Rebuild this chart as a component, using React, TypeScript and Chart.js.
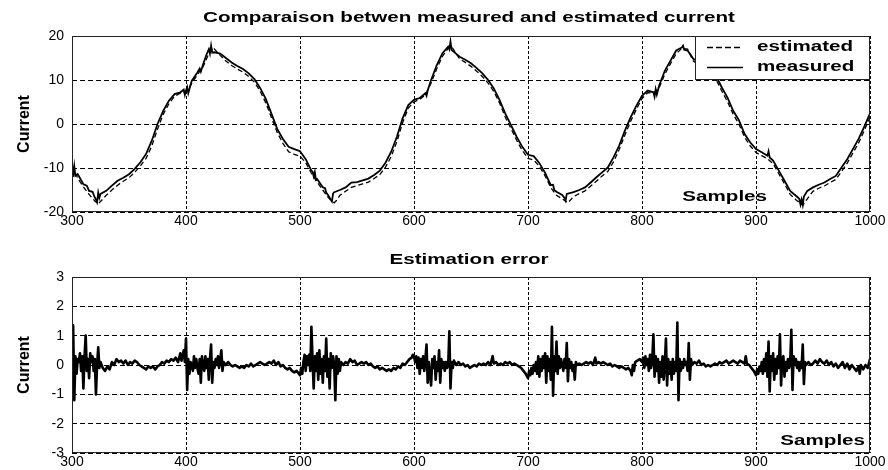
import React, { useEffect, useRef } from "react";
import { Chart, registerables } from "chart.js";

Chart.register(...registerables);

// ---------- data ----------
const topTitle = "Comparaison betwen measured and estimated current";
const bottomTitle = "Estimation error";
const xAxisLabel = "Samples";
const yAxisLabel = "Current";
const seriesNames = ["estimated", "measured"];

const sampleTicks = [300, 400, 500, 600, 700, 800, 900, 1000];
const currentTicks = [-20, -10, 0, 10, 20];
const errorTicks = [-3, -2, -1, 0, 1, 2, 3];

// [sample, current]
const measuredPoints: [number, number][] = [
  [300, -8.7], [301, -12.0], [302, -9.6], [303, -11.8], [305, -11.4], [310, -13.7], [313, -14.0], [315, -15.2],
  [318, -15.4], [320, -16.7], [321, -17.2], [322, -17.8], [323, -15.6], [324, -16.8], [325, -15.9], [330, -15.2],
  [335, -14.0], [340, -12.9], [345, -12.2], [350, -11.4], [355, -10.2], [360, -8.7], [365, -6.8], [370, -3.8],
  [375, 0.0], [380, 3.0], [385, 5.3], [390, 6.8], [395, 7.2], [398, 7.8], [399, 6.6], [400, 7.6], [401, 8.4],
  [402, 7.0], [405, 9.8], [410, 11.7], [412, 12.6], [413, 11.9], [415, 13.6], [418, 15.8], [420, 17.0], [421, 16.0],
  [422, 17.8], [423, 16.2], [425, 16.3], [430, 16.0], [435, 15.0], [440, 14.0], [445, 13.2], [450, 12.5], [455, 11.5],
  [460, 10.2], [465, 8.2], [470, 5.7], [475, 2.3], [480, -1.1], [485, -3.4], [490, -5.2], [495, -5.7], [500, -6.2],
  [505, -8.0], [510, -10.6], [511, -10.8], [512, -11.9], [513, -10.9], [514, -12.7], [515, -12.5], [520, -14.4],
  [522, -14.6], [523, -15.6], [525, -16.3], [527, -17.2], [528, -17.6], [529, -15.8], [530, -15.5], [535, -15.0],
  [540, -14.4], [545, -13.3], [550, -13.2], [555, -12.8], [560, -12.4], [565, -11.6], [570, -10.6], [575, -8.8],
  [580, -6.3], [585, -2.9], [590, 1.3], [595, 4.3], [600, 5.5], [605, 5.9], [610, 7.0], [611, 6.4], [612, 7.6],
  [615, 10.0], [620, 13.4], [625, 16.1], [630, 17.6], [631, 17.0], [632, 18.7], [633, 16.8], [635, 16.4], [640, 15.3],
  [645, 14.6], [650, 13.8], [655, 12.7], [660, 11.5], [665, 10.0], [670, 8.1], [675, 5.5], [680, 2.4], [685, -0.2],
  [690, -2.9], [695, -5.2], [700, -7.0], [705, -7.3], [710, -8.9], [715, -11.1], [720, -13.9], [722, -13.8],
  [723, -15.0], [725, -15.4], [730, -16.1], [732, -16.8], [733, -17.4], [734, -15.9], [735, -15.8], [740, -15.5],
  [745, -15.0], [750, -14.4], [755, -13.3], [760, -12.1], [765, -11.0], [770, -9.9], [775, -7.6], [780, -4.9],
  [785, -1.5], [790, 1.5], [795, 4.1], [800, 6.4], [805, 7.6], [810, 7.2], [811, 6.2], [812, 7.9], [813, 6.7],
  [815, 8.7], [820, 12.1], [825, 14.4], [830, 16.7], [835, 17.4], [836, 17.8], [837, 16.9], [840, 16.7], [845, 14.8],
  [850, 14.0], [855, 13.2], [860, 12.2], [865, 10.9], [870, 8.3], [875, 6.0], [880, 3.0], [885, 0.9], [890, -2.3],
  [895, -4.2], [900, -5.7], [905, -6.4], [910, -7.2], [911, -6.2], [912, -7.6], [915, -8.3], [920, -10.6],
  [925, -12.9], [930, -15.2], [935, -16.3], [938, -17.0], [939, -18.3], [940, -17.2], [941, -18.4], [942, -16.5],
  [945, -15.2], [950, -14.4], [955, -13.8], [960, -13.3], [965, -12.5], [970, -11.8], [975, -9.9], [980, -8.0],
  [985, -5.7], [990, -3.4], [995, -0.6], [1000, 2.4],
];

const estimatedPoints: [number, number][] = [
  [300, -9.5], [305, -12.3], [310, -14.3], [315, -16.0], [320, -17.5], [323, -18.2], [325, -17.6], [330, -16.2],
  [335, -15.0], [340, -13.9], [345, -13.0], [350, -12.2], [355, -11.0], [360, -9.5], [365, -7.8], [370, -5.0],
  [375, -1.2], [380, 2.2], [385, 4.6], [390, 6.3], [395, 7.0], [400, 7.3], [405, 9.2], [410, 11.2], [415, 13.0],
  [420, 16.0], [424, 17.4], [425, 17.0], [430, 15.6], [435, 14.3], [440, 13.3], [445, 12.5], [450, 11.8], [455, 10.8],
  [460, 9.5], [465, 7.5], [470, 4.8], [475, 1.4], [480, -1.9], [485, -4.4], [490, -6.3], [495, -6.9], [500, -7.3],
  [505, -8.8], [510, -11.2], [515, -13.2], [520, -15.0], [525, -16.8], [530, -17.9], [532, -17.4], [535, -16.2],
  [540, -15.3], [545, -14.4], [550, -14.0], [555, -13.6], [560, -13.2], [565, -12.4], [570, -11.5], [575, -9.8],
  [580, -7.4], [585, -4.0], [590, 0.3], [595, 3.6], [600, 5.0], [605, 5.6], [610, 6.6], [615, 9.3], [620, 12.6],
  [625, 15.4], [630, 17.2], [633, 17.6], [635, 16.8], [640, 14.8], [645, 14.0], [650, 13.1], [655, 12.0], [660, 10.8],
  [665, 9.3], [670, 7.4], [675, 4.8], [680, 1.6], [685, -1.0], [690, -3.7], [695, -6.0], [700, -7.8], [705, -8.2],
  [710, -9.6], [715, -11.8], [720, -14.5], [725, -16.2], [730, -17.0], [735, -17.9], [740, -16.5], [745, -15.8],
  [750, -15.2], [755, -14.1], [760, -13.0], [765, -11.8], [770, -10.8], [775, -8.6], [780, -5.8], [785, -2.5],
  [790, 0.6], [795, 3.3], [800, 5.8], [805, 7.1], [810, 7.0], [815, 8.2], [820, 11.3], [825, 13.7], [830, 16.0],
  [835, 17.2], [840, 17.0], [845, 14.3], [850, 13.4], [855, 12.6], [860, 11.5], [865, 10.1], [870, 7.5], [875, 5.1],
  [880, 2.2], [885, 0.0], [890, -3.0], [895, -5.0], [900, -6.5], [905, -7.2], [910, -7.9], [915, -9.0], [920, -11.3],
  [925, -13.6], [930, -16.0], [935, -17.2], [941, -18.5], [945, -17.0], [950, -15.3], [955, -14.6], [960, -14.1],
  [965, -13.3], [970, -12.6], [975, -10.8], [980, -8.9], [985, -6.6], [990, -4.3], [995, -1.5], [1000, 1.6],
];

// [sample, error]
const errorPoints: [number, number][] = [
  [300, 0.2], [301, 1.35], [302, -1.2], [303, 0.3], [304, -0.3], [305, 0.2], [306, 0.1], [307, 0.4], [308, -0.2],
  [309, 0.3], [310, -0.8], [311, 0.3], [312, 1.0], [313, -0.2], [314, 0.2], [315, -0.45], [316, 0.4], [317, 0.1],
  [318, 0.3], [319, -0.2], [320, 0.2], [321, -1.0], [322, 0.0], [323, 0.6], [324, -0.1], [325, 0.1], [327, -0.1],
  [329, -0.2], [331, -0.05], [333, -0.15], [335, 0.1], [337, 0.0], [339, 0.2], [341, 0.1], [343, 0.15], [345, 0.05],
  [347, 0.15], [349, 0.0], [351, 0.1], [353, 0.05], [355, 0.15], [357, 0.1], [359, 0.0], [361, -0.05], [363, -0.1],
  [365, -0.15], [367, -0.05], [369, -0.1], [371, -0.05], [373, -0.15], [375, -0.05], [377, 0.0], [379, 0.1],
  [381, 0.05], [383, 0.15], [385, 0.1], [387, 0.2], [389, 0.15], [391, 0.25], [393, 0.1], [395, 0.4], [396, 0.15],
  [397, 0.3], [398, 0.5], [399, 0.1], [400, 0.9], [401, -0.85], [402, 0.2], [403, -0.3], [404, 0.1], [405, 0.0],
  [406, -0.2], [407, 0.3], [408, -0.1], [409, 0.2], [410, -0.1], [411, -0.3], [412, 0.2], [413, -0.6], [414, 0.3],
  [415, 0.0], [416, -0.2], [417, 0.3], [418, -0.1], [419, 0.2], [420, -0.5], [421, 0.2], [422, 0.7], [423, -0.6],
  [424, 0.1], [425, -0.1], [426, 0.2], [427, 0.0], [428, 0.3], [429, -0.1], [430, 0.2], [431, 0.5], [432, -0.2],
  [433, 0.1], [435, 0.0], [437, 0.1], [439, 0.0], [441, -0.05], [443, 0.0], [445, -0.05], [447, -0.1], [449, -0.05],
  [451, -0.1], [453, 0.0], [455, -0.05], [457, 0.05], [459, -0.05], [461, 0.0], [463, 0.05], [465, 0.1], [467, 0.05],
  [469, 0.0], [471, 0.05], [473, 0.1], [475, 0.05], [477, 0.15], [479, 0.0], [481, 0.1], [483, -0.05], [485, 0.0],
  [487, -0.1], [489, -0.15], [491, -0.1], [493, -0.2], [495, -0.25], [497, -0.2], [499, -0.3], [500, -0.35],
  [501, -0.1], [502, -0.3], [503, 0.1], [504, 0.35], [505, -0.2], [506, 0.3], [507, 0.0], [508, 0.35], [509, -0.2],
  [510, 1.3], [511, 0.2], [512, -0.8], [513, 0.3], [514, -0.2], [515, 0.4], [516, -0.5], [517, 0.5], [518, -0.3],
  [519, 0.2], [520, -0.6], [521, 0.3], [522, -0.2], [523, 0.9], [524, -0.4], [525, 0.2], [526, -0.8], [527, 0.4],
  [528, -0.1], [529, 0.3], [530, 0.0], [531, -1.2], [532, 0.3], [533, -0.3], [534, 0.2], [535, -0.2], [536, 0.1],
  [538, 0.0], [540, 0.1], [542, 0.05], [544, 0.2], [546, 0.1], [548, 0.15], [550, 0.0], [552, 0.05], [554, 0.1],
  [556, 0.05], [558, 0.1], [560, 0.0], [562, 0.05], [564, -0.05], [566, -0.1], [568, -0.05], [570, -0.15],
  [572, -0.1], [574, -0.15], [576, -0.2], [578, -0.15], [580, -0.2], [582, -0.1], [584, -0.15], [586, -0.05],
  [588, -0.1], [590, 0.05], [592, 0.0], [594, 0.1], [596, 0.2], [598, 0.25], [599, 0.35], [600, 0.3], [601, 0.1],
  [602, 0.3], [603, -0.1], [604, 0.25], [605, -0.3], [606, 0.2], [607, -0.1], [608, 0.3], [609, -0.2], [610, 0.2],
  [611, 0.7], [612, -0.6], [613, 0.1], [614, -0.3], [615, -0.7], [616, 0.2], [617, -0.1], [618, 0.3], [619, -0.5],
  [620, 0.1], [621, -0.2], [622, 0.5], [623, -0.6], [624, 0.2], [625, -0.1], [626, 0.1], [627, -0.2], [628, 0.1],
  [629, -0.1], [630, 0.0], [631, 1.15], [632, -0.8], [633, 0.1], [634, -0.1], [635, 0.15], [637, 0.0], [639, 0.1],
  [641, 0.0], [643, 0.05], [645, -0.05], [647, 0.0], [649, -0.1], [651, -0.05], [653, 0.0], [655, -0.05],
  [657, 0.05], [659, 0.0], [661, 0.05], [663, 0.0], [665, 0.1], [667, 0.0], [669, 0.3], [670, 0.05], [672, 0.1],
  [674, 0.0], [676, 0.05], [678, 0.0], [680, 0.1], [682, 0.05], [684, 0.1], [686, 0.0], [688, 0.05], [690, 0.0],
  [692, -0.05], [694, -0.1], [696, -0.2], [698, -0.3], [700, -0.45], [701, -0.2], [702, -0.35], [703, -0.1],
  [704, -0.3], [705, 0.0], [706, -0.2], [707, 0.1], [708, -0.3], [709, 0.3], [710, -0.4], [711, 0.2], [712, -0.2],
  [713, 0.3], [714, -0.1], [715, 0.4], [716, -0.6], [717, 0.3], [718, -0.2], [719, 0.2], [720, -0.5], [721, 1.3],
  [722, -1.05], [723, 0.3], [724, -0.2], [725, 0.8], [726, -0.3], [727, 0.3], [728, -0.1], [729, 0.2], [730, 0.0],
  [731, -0.2], [732, 0.2], [733, -0.1], [734, 0.75], [735, -0.55], [736, 0.2], [737, -0.1], [738, 0.1], [739, -0.2],
  [740, 0.0], [741, -0.5], [742, 0.1], [743, 0.0], [745, 0.05], [747, 0.0], [749, 0.05], [751, 0.1], [753, 0.05],
  [755, 0.1], [757, 0.0], [759, 0.25], [760, 0.05], [762, 0.1], [764, 0.05], [766, 0.1], [768, 0.05], [770, 0.0],
  [772, 0.05], [774, -0.05], [776, 0.0], [778, -0.05], [780, -0.1], [782, -0.05], [784, -0.1], [786, -0.15],
  [788, -0.1], [790, -0.2], [791, -0.35], [792, 0.0], [793, -0.2], [794, 0.1], [796, 0.15], [798, 0.2], [800, 0.1],
  [801, 0.25], [802, -0.1], [803, 0.3], [804, 0.0], [805, 0.2], [806, -0.2], [807, 0.35], [808, -0.1], [809, 0.2],
  [810, 1.05], [811, -0.4], [812, 0.3], [813, -0.2], [814, 0.2], [815, -0.6], [816, 0.1], [817, -0.4], [818, 0.3],
  [819, -0.5], [820, 0.0], [821, 0.9], [822, -0.7], [823, 0.2], [824, -0.3], [825, 0.1], [826, -0.5], [827, 0.2],
  [828, -0.3], [829, 0.1], [830, -0.2], [831, 1.45], [832, -1.2], [833, 0.2], [834, -0.2], [835, 0.1], [836, -0.1],
  [837, 0.2], [838, 0.0], [839, 0.1], [840, -0.2], [841, 0.75], [842, -0.5], [843, 0.2], [844, 0.0], [846, 0.1],
  [848, 0.05], [850, 0.15], [852, 0.0], [854, 0.05], [856, -0.05], [858, 0.0], [860, -0.05], [862, 0.0], [864, 0.05],
  [866, 0.0], [868, 0.1], [870, 0.05], [872, 0.1], [874, 0.15], [876, 0.05], [878, 0.1], [880, 0.15], [882, 0.1],
  [884, 0.05], [886, 0.15], [888, 0.1], [890, 0.05], [891, 0.3], [892, 0.05], [894, 0.0], [896, -0.1], [898, -0.2],
  [900, -0.35], [901, -0.15], [902, -0.3], [903, -0.05], [904, -0.2], [905, 0.1], [906, -0.3], [907, 0.2],
  [908, -0.2], [909, 0.4], [910, -0.4], [911, 0.8], [912, -0.9], [913, 0.3], [914, -0.2], [915, 0.4], [916, -0.5],
  [917, 0.2], [918, -0.3], [919, 0.3], [920, -0.1], [921, 1.05], [922, -0.7], [923, 0.2], [924, 0.3], [925, -0.4],
  [926, 0.1], [927, -0.2], [928, 0.2], [929, -0.1], [930, 0.1], [931, 1.2], [932, -0.85], [933, 0.3], [934, 0.0],
  [935, 0.2], [936, -0.1], [937, 0.1], [938, -0.2], [939, 0.1], [940, -0.1], [941, 0.7], [942, -0.65], [943, 0.1],
  [944, 0.0], [946, 0.1], [948, 0.0], [950, 0.05], [952, 0.15], [954, 0.05], [956, 0.2], [958, 0.1], [960, 0.05],
  [962, 0.15], [964, 0.0], [966, 0.1], [968, -0.05], [970, 0.05], [972, -0.1], [974, 0.0], [976, 0.1], [978, -0.1],
  [980, 0.05], [982, -0.15], [984, 0.0], [986, -0.1], [988, -0.2], [990, -0.05], [991, -0.3], [992, 0.0],
  [994, -0.15], [996, 0.0], [998, -0.1], [1000, 0.2],
];

// ---------- styling ----------
const FAMILY = '"Liberation Sans", Arial, Helvetica, sans-serif';
const LABEL_FONT = `bold 14px ${FAMILY}`;
const STRETCH = 1.47;

function stretchedText(ctx: CanvasRenderingContext2D, text: string, x: number, y: number, align: CanvasTextAlign) {
  ctx.save();
  ctx.font = LABEL_FONT;
  ctx.fillStyle = "#000";
  ctx.textAlign = align;
  ctx.textBaseline = "middle";
  ctx.translate(x, y);
  ctx.scale(STRETCH, 1);
  ctx.fillText(text, 0, 0);
  ctx.restore();
}

type Decor = {
  title: string;
  titleOffset: number;
  samplesRight: number;
  samplesUp: number;
  legend: boolean;
};

function decorPlugin(d: Decor) {
  return {
    id: "decor",
    afterDraw(chart: any) {
      const ctx: CanvasRenderingContext2D = chart.ctx;
      const a = chart.chartArea;
      ctx.save();
      ctx.strokeStyle = "#222";
      ctx.lineWidth = 1;
      ctx.setLineDash([]);
      ctx.strokeRect(Math.round(a.left) + 0.5, Math.round(a.top) + 0.5, Math.round(a.right - a.left) - 1, Math.round(a.bottom - a.top) - 1);
      ctx.restore();

      stretchedText(ctx, d.title, (a.left + a.right) / 2 - 2, a.top - d.titleOffset, "center");
      stretchedText(ctx, xAxisLabel, a.right - d.samplesRight, a.bottom - d.samplesUp, "right");

      if (d.legend) {
        const bw = 175;
        const bh = 44;
        const bx = Math.round(a.right) - bw;
        const by = Math.round(a.top);
        ctx.save();
        ctx.fillStyle = "#fff";
        ctx.fillRect(bx, by, bw, bh);
        ctx.strokeStyle = "#222";
        ctx.lineWidth = 1;
        ctx.strokeRect(bx + 0.5, by + 0.5, bw - 1, bh - 1);
        ctx.restore();
        chart.data.datasets.forEach((ds: any, i: number) => {
          const y = by + 11 + i * 20;
          ctx.save();
          ctx.strokeStyle = "#000";
          ctx.lineWidth = 1.6;
          ctx.setLineDash(ds.borderDash && ds.borderDash.length ? [6, 3] : []);
          ctx.beginPath();
          ctx.moveTo(bx + 12, y + 0.5);
          ctx.lineTo(bx + 48, y + 0.5);
          ctx.stroke();
          ctx.restore();
          stretchedText(ctx, ds.label, bx + 62, y, "left");
        });
      }
    },
  };
}

function makeOptions(ticksX: number[], ticksY: number[], padTop: number, xHeight: number) {
  const tickFont = { family: FAMILY, size: 14 };
  return {
    animation: false,
    responsive: false,
    maintainAspectRatio: false,
    events: [],
    layout: { padding: { left: 0, right: 18, top: padTop, bottom: 0 } },
    plugins: { legend: { display: false }, title: { display: false }, tooltip: { enabled: false } },
    scales: {
      x: {
        type: "linear",
        min: ticksX[0],
        max: ticksX[ticksX.length - 1],
        afterBuildTicks: (s: any) => {
          s.ticks = ticksX.map((v) => ({ value: v }));
        },
        afterFit: (s: any) => {
          s.height = xHeight;
        },
        ticks: {
          font: tickFont,
          color: "#000",
          padding: 1,
          autoSkip: false,
          maxRotation: 0,
          callback: (v: any) => String(v),
        },
        grid: { color: "#000", lineWidth: 1, drawTicks: false },
        border: { display: false, dash: [3, 2] },
      },
      y: {
        type: "linear",
        min: ticksY[0],
        max: ticksY[ticksY.length - 1],
        afterBuildTicks: (s: any) => {
          s.ticks = ticksY.map((v) => ({ value: v }));
        },
        afterFit: (s: any) => {
          s.width = 72;
        },
        ticks: { font: tickFont, color: "#000", padding: 8, autoSkip: false, callback: (v: any) => String(v) },
        grid: { color: "#000", lineWidth: 1, drawTicks: false },
        border: { display: false, dash: [5, 3] },
        title: {
          display: true,
          text: yAxisLabel,
          color: "#000",
          font: { family: FAMILY, size: 16, weight: "bold" },
          padding: { top: 15, bottom: 0 },
        },
      },
    },
  };
}

const toXY = (pts: [number, number][]) => pts.map(([x, y]) => ({ x, y }));

export default function App() {
  const topRef = useRef<HTMLCanvasElement>(null);
  const bottomRef = useRef<HTMLCanvasElement>(null);

  useEffect(() => {
    const top = new Chart(topRef.current as HTMLCanvasElement, {
      type: "line",
      data: {
        datasets: [
          {
            label: seriesNames[0],
            data: toXY(estimatedPoints),
            borderColor: "#000",
            borderWidth: 1.3,
            borderDash: [5, 3],
            pointRadius: 0,
            tension: 0,
            fill: false,
          },
          {
            label: seriesNames[1],
            data: toXY(measuredPoints),
            borderColor: "#000",
            borderWidth: 1.8,
            pointRadius: 0,
            tension: 0,
            fill: false,
          },
        ],
      },
      options: makeOptions(sampleTicks, currentTicks, 36, 26) as any,
      plugins: [decorPlugin({ title: topTitle, titleOffset: 18, samplesRight: 103, samplesUp: 15, legend: true })],
    });

    const bottom = new Chart(bottomRef.current as HTMLCanvasElement, {
      type: "line",
      data: {
        datasets: [
          {
            label: bottomTitle,
            data: toXY(errorPoints),
            borderColor: "#000",
            borderWidth: 2.6,
            borderJoinStyle: "round",
            pointRadius: 0,
            tension: 0,
            fill: false,
          },
        ],
      },
      options: makeOptions(sampleTicks, errorTicks, 39, 17) as any,
      plugins: [decorPlugin({ title: bottomTitle, titleOffset: 17, samplesRight: 5, samplesUp: 12, legend: false })],
    });

    return () => {
      top.destroy();
      bottom.destroy();
    };
  }, []);

  return (
    <div style={{ position: "absolute", left: 0, top: 0, width: 888, height: 470, background: "#fff" }}>
      <canvas ref={topRef} width={888} height={238} style={{ position: "absolute", left: 0, top: 0 }} />
      <canvas ref={bottomRef} width={888} height={232} style={{ position: "absolute", left: 0, top: 238 }} />
    </div>
  );
}
